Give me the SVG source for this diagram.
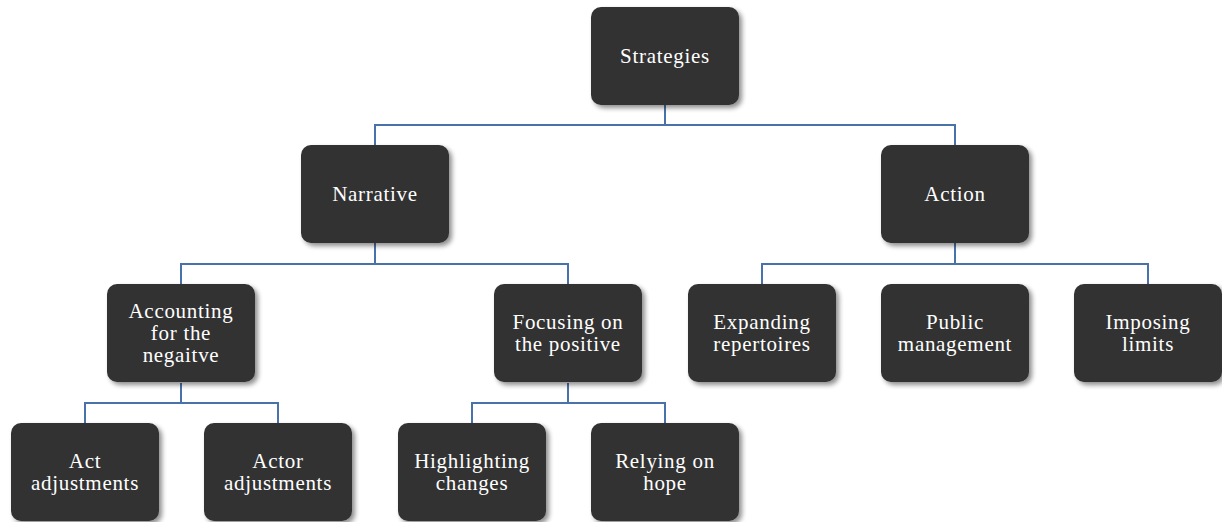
<svg xmlns="http://www.w3.org/2000/svg" width="1222" height="522" viewBox="0 0 1222 522">
<defs>
<filter id="sh" x="-10%" y="-10%" width="130%" height="130%">
<feGaussianBlur in="SourceAlpha" stdDeviation="2.5"/>
<feOffset dx="3" dy="3" result="b"/>
<feComponentTransfer><feFuncA type="linear" slope="0.45"/></feComponentTransfer>
<feMerge><feMergeNode/><feMergeNode in="SourceGraphic"/></feMerge>
</filter>
<style>
.n rect{fill:#333333;filter:url(#sh)}
.n text{fill:#ffffff;font-family:"Liberation Serif","DejaVu Serif",serif;font-size:21px;letter-spacing:0.7px;text-anchor:middle}
.c path{fill:none;stroke:#4a72aa;stroke-width:2}
</style>
</defs>
<rect width="1222" height="522" fill="#ffffff"/>
<g class="c">
<path d="M665 105V125M375 145V125H955V145"/>
<path d="M375 243V264M181 284V264H568V284"/>
<path d="M955 243V264M762 284V264H1148V284"/>
<path d="M181 383V403M85 423V403H278V423"/>
<path d="M568 383V403M472 423V403H665V423"/>
</g>
<g class="n" id="strategies"><rect x="591" y="7" width="148" height="98" rx="10"/><text x="665" y="63">Strategies</text></g>
<g class="n" id="narrative"><rect x="301" y="145" width="148" height="98" rx="10"/><text x="375" y="201">Narrative</text></g>
<g class="n" id="action"><rect x="881" y="145" width="148" height="98" rx="10"/><text x="955" y="201">Action</text></g>
<g class="n" id="accounting"><rect x="107" y="284" width="148" height="98" rx="10"/><text x="181" y="318">Accounting</text><text x="181" y="340">for the</text><text x="181" y="362">negaitve</text></g>
<g class="n" id="focusing"><rect x="494" y="284" width="148" height="98" rx="10"/><text x="568" y="329">Focusing on</text><text x="568" y="351">the positive</text></g>
<g class="n" id="expanding"><rect x="688" y="284" width="148" height="98" rx="10"/><text x="762" y="329">Expanding</text><text x="762" y="351">repertoires</text></g>
<g class="n" id="public"><rect x="881" y="284" width="148" height="98" rx="10"/><text x="955" y="329">Public</text><text x="955" y="351">management</text></g>
<g class="n" id="imposing"><rect x="1074" y="284" width="148" height="98" rx="10"/><text x="1148" y="329">Imposing</text><text x="1148" y="351">limits</text></g>
<g class="n" id="act"><rect x="11" y="423" width="148" height="98" rx="10"/><text x="85" y="468">Act</text><text x="85" y="490">adjustments</text></g>
<g class="n" id="actor"><rect x="204" y="423" width="148" height="98" rx="10"/><text x="278" y="468">Actor</text><text x="278" y="490">adjustments</text></g>
<g class="n" id="highlighting"><rect x="398" y="423" width="148" height="98" rx="10"/><text x="472" y="468">Highlighting</text><text x="472" y="490">changes</text></g>
<g class="n" id="relying"><rect x="591" y="423" width="148" height="98" rx="10"/><text x="665" y="468">Relying on</text><text x="665" y="490">hope</text></g>
</svg>
